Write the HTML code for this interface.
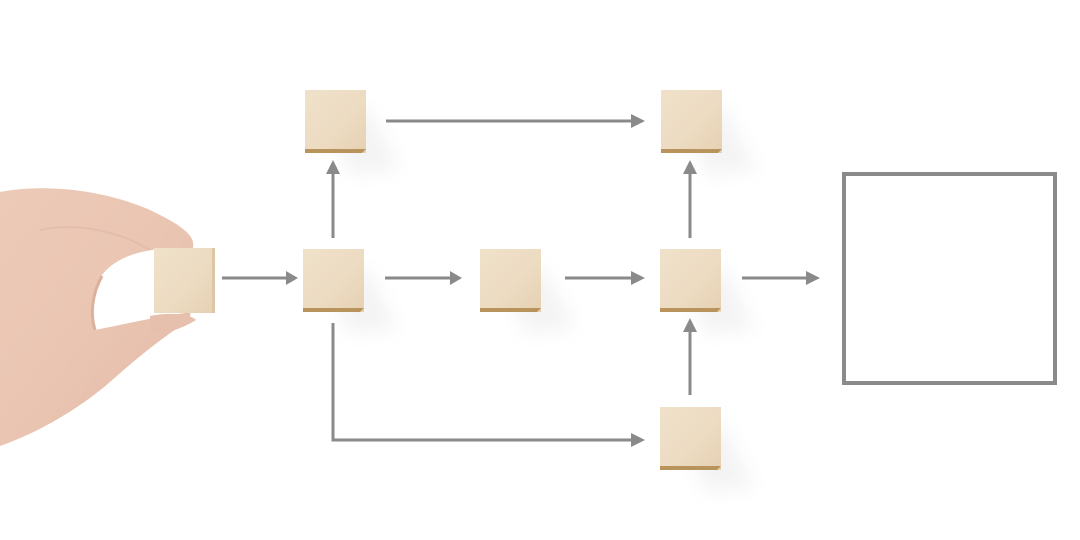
<!DOCTYPE html>
<html><head><style>
html,body{margin:0;padding:0;background:#fff;width:1080px;height:540px;overflow:hidden}
</style></head><body>
<svg width="1080" height="540" viewBox="0 0 1080 540" xmlns="http://www.w3.org/2000/svg">
<defs>
<linearGradient id="wood" x1="0" y1="0" x2="1" y2="1">
<stop offset="0" stop-color="#f0e1ca"/><stop offset="0.6" stop-color="#ecdbc1"/><stop offset="1" stop-color="#e6d0b2"/>
</linearGradient>
<linearGradient id="skin" x1="0" y1="0" x2="1" y2="1">
<stop offset="0" stop-color="#eccab8"/><stop offset="0.5" stop-color="#eac5b2"/><stop offset="1" stop-color="#e2baa6"/>
</linearGradient>
<filter id="sh" x="-80%" y="-80%" width="260%" height="260%"><feGaussianBlur stdDeviation="9"/></filter>
<g id="blk">
<polygon points="20,20 65,20 95,80 45,85" fill="#efefef" filter="url(#sh)" opacity="0.7"/>
<rect x="0" y="0" width="61" height="63" fill="url(#wood)"/>
<path d="M0,59 L61,59 L57,63 L0,63 Z" fill="#b8935c"/>
</g>
</defs>
<use href="#blk" x="305" y="90"/>
<use href="#blk" x="661" y="90"/>
<use href="#blk" x="303" y="249"/>
<use href="#blk" x="480" y="249"/>
<use href="#blk" x="660" y="249"/>
<use href="#blk" x="660" y="407"/>
<g stroke="#8a8a8a" stroke-width="3" fill="none">
<rect x="844" y="174" width="211" height="209" stroke-width="4"/>
<line x1="222" y1="278" x2="288" y2="278"/>
<line x1="385" y1="278" x2="452" y2="278"/>
<line x1="565" y1="278" x2="633" y2="278"/>
<line x1="742" y1="278" x2="808" y2="278"/>
<line x1="386" y1="121" x2="633" y2="121"/>
<line x1="333" y1="238" x2="333" y2="172"/>
<line x1="690" y1="238" x2="690" y2="172"/>
<line x1="690" y1="395" x2="690" y2="330"/>
<polyline points="333,323 333,440 633,440"/>
</g>
<g fill="#8a8a8a">
<polygon points="286,271 298,278 286,285"/>
<polygon points="450,271 462,278 450,285"/>
<polygon points="631,271 645,278 631,285"/>
<polygon points="806,271 820,278 806,285"/>
<polygon points="631,114 645,121 631,128"/>
<polygon points="631,433 645,440 631,447"/>
<polygon points="326,174 333,160 340,174"/>
<polygon points="683,174 690,160 697,174"/>
<polygon points="683,332 690,318 697,332"/>
</g>
<path d="M0,192 C40,184 100,188 150,210 C175,222 196,234 193,247 L190,320 C170,332 140,355 110,382 C80,408 40,432 0,446 Z" fill="url(#skin)"/>
<path d="M160,249 C130,252 110,262 100,278 C92,295 90,315 95,330 C125,324 160,316 192,312 L192,249 Z" fill="#fff"/>
<path d="M102,276 C92,294 90,314 95,330" stroke="#dcb09c" stroke-width="3" fill="none"/>
<path d="M40,230 C80,222 120,232 150,250" stroke="#e0b8a4" stroke-width="2" fill="none" opacity="0.6"/>
<g transform="translate(154,248)">
<rect x="0" y="0" width="61" height="65" fill="url(#wood)"/>
<rect x="58" y="0" width="3" height="65" fill="#dcc6a6"/>
</g>
<path d="M150,316 C170,312 190,314 196,320 C180,330 160,336 150,330 Z" fill="#e6c0ad"/>
</svg>
</body></html>
